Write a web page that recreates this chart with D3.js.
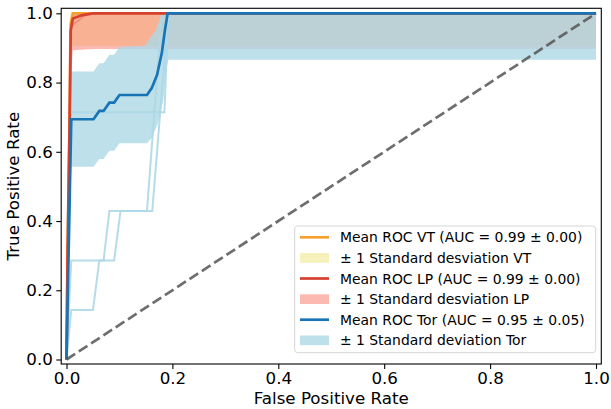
<!DOCTYPE html>
<html><head><meta charset="utf-8">
<script src="https://cdn.jsdelivr.net/npm/d3@7"></script>
<style>html,body{margin:0;padding:0;background:#fff;}svg{display:block;font-family:"DejaVu Sans",sans-serif;}</style>
</head><body><svg id="chart" width="611" height="409"></svg>
<script>
// ---- data ----
const xTicks = [0, 0.2, 0.4, 0.6, 0.8, 1.0];
const yTicks = [0, 0.2, 0.4, 0.6, 0.8, 1.0];

const vtMeanFpr = [0, 0.002, 0.005, 0.007, 0.008, 0.012, 1];
const vtMeanTpr = [0, 0.30, 0.60, 0.85, 0.97, 1, 1];
const vtBandFpr = [0, 0.007, 0.008, 0.012, 0.03, 1];
const vtBandLow = [0, 0.80, 0.90, 0.905, 0.906, 0.906];
const vtBandHigh = [0, 1, 1, 1, 1, 1];

const lpMeanFpr = [0, 0.002, 0.005, 0.007, 0.008, 0.012, 0.03, 0.05, 1];
const lpMeanTpr = [0, 0.30, 0.60, 0.80, 0.95, 0.985, 0.995, 1, 1];
const lpBandFpr = [0, 0.004, 0.007, 0.012, 0.05, 1];
const lpBandLow = [0, 0.30, 0.80, 0.893, 0.897, 0.897];
const lpBandHigh = [0, 0.60, 0.97, 1, 1, 1];
const lpFold1Fpr = [0, 0.006, 0.012, 0.03, 0.05, 1];
const lpFold1Tpr = [0, 0.95, 0.965, 0.99, 1, 1];
const lpFold2Fpr = [0, 0.008, 0.02, 0.04, 1];
const lpFold2Tpr = [0, 0.97, 0.975, 1, 1];

const torMeanFpr = [0, 0.009, 0.051, 0.062, 0.07, 0.081, 0.09, 0.1, 0.152, 0.161, 0.171, 0.18, 0.186, 0.191, 1];
const torMeanTpr = [0, 0.694, 0.694, 0.718, 0.718, 0.742, 0.742, 0.764, 0.764, 0.784, 0.822, 0.885, 0.952, 1, 1];
const torBandFpr = [0, 0.009, 0.051, 0.062, 0.07, 0.081, 0.09, 0.1, 0.149, 0.152, 0.161, 0.168, 0.173, 0.18, 0.183, 0.188, 0.192, 1];
const torBandLow = [0, 0.557, 0.557, 0.579, 0.579, 0.603, 0.603, 0.625, 0.625, 0.625, 0.639, 0.665, 0.683, 0.73, 0.751, 0.83, 0.866, 0.866];
const torBandHigh = [0, 0.832, 0.832, 0.856, 0.856, 0.88, 0.88, 0.903, 0.906, 0.915, 0.935, 0.95, 0.97, 0.997, 1, 1, 1, 1];

const torFold1Fpr = [0, 0.009, 0.05, 0.062, 0.09, 0.102, 0.162, 0.192, 1];
const torFold1Tpr = [0, 0.143, 0.143, 0.286, 0.286, 0.429, 0.429, 1, 1];
const torFold2Fpr = [0, 0.009, 0.07, 0.081, 0.152, 0.18, 1];
const torFold2Tpr = [0, 0.286, 0.286, 0.429, 0.429, 1, 1];
const torFold3Fpr = [0, 0.009, 0.185, 0.192, 1];
const torFold3Tpr = [0, 0.714, 0.714, 1, 1];

const legendLabels = [
  "Mean ROC VT (AUC = 0.99 \u00b1 0.00)",
  "\u00b1 1 Standard desviation VT",
  "Mean ROC LP (AUC = 0.99 \u00b1 0.00)",
  "\u00b1 1 Standard desviation LP",
  "Mean ROC Tor (AUC = 0.95 \u00b1 0.05)",
  "\u00b1 1 Standard deviation Tor"
];

// ---- styles ----
const C = {
  vt: "#f6a02d", vtFill: "#f0e68c",
  lp: "#d6402f", lpFill: "#fa8072",
  tor: "#1874b4", torFill: "#add8e6",
  fold: "#add8e6", lpFold: "#f08080"
};

const svg = d3.select("#chart");
const m = {left: 61.2, right: 601.3, top: 8.3, bottom: 364};
const x = d3.scaleLinear().domain([-0.01, 1.01]).range([m.left, m.right]);
const y = d3.scaleLinear().domain([-0.013, 1.0145]).range([m.bottom, m.top]);

const zip = (a, b) => a.map((v, i) => [v, b[i]]);
const line = d3.line().x(d => x(d[0])).y(d => y(d[1]));
const area = d3.area().x(d => x(d[0])).y0(d => y(d[1])).y1(d => y(d[2]));
const band = (f, lo, hi) => f.map((v, i) => [v, lo[i], hi[i]]);

const g = svg.append("g");
g.append("path").datum(band(vtBandFpr, vtBandLow, vtBandHigh)).attr("d", area)
  .attr("fill", C.vtFill).attr("fill-opacity", 0.6);
g.append("path").datum(band(lpBandFpr, lpBandLow, lpBandHigh)).attr("d", area)
  .attr("fill", C.lpFill).attr("fill-opacity", 0.55);
g.append("path").datum(band(torBandFpr, torBandLow, torBandHigh)).attr("d", area)
  .attr("fill", C.torFill).attr("fill-opacity", 0.8);

[[torFold1Fpr, torFold1Tpr], [torFold2Fpr, torFold2Tpr], [torFold3Fpr, torFold3Tpr]].forEach(([f, t]) => {
  g.append("path").datum(zip(f, t)).attr("d", line).attr("fill", "none")
    .attr("stroke", C.fold).attr("stroke-width", 2).attr("stroke-opacity", 0.9);
});
[[lpFold1Fpr, lpFold1Tpr], [lpFold2Fpr, lpFold2Tpr]].forEach(([f, t]) => {
  g.append("path").datum(zip(f, t)).attr("d", line).attr("fill", "none")
    .attr("stroke", C.lpFold).attr("stroke-width", 1.2).attr("stroke-opacity", 0.7);
});

g.append("path").datum(zip(vtMeanFpr, vtMeanTpr)).attr("d", line).attr("fill", "none")
  .attr("stroke", C.vt).attr("stroke-width", 2.7);
g.append("path").datum(zip(lpMeanFpr, lpMeanTpr)).attr("d", line).attr("fill", "none")
  .attr("stroke", C.lp).attr("stroke-width", 2.7);
g.append("path").datum(zip(torMeanFpr, torMeanTpr)).attr("d", line).attr("fill", "none")
  .attr("stroke", C.tor).attr("stroke-width", 2.7);

g.append("path").datum([[0, 0], [1, 1]]).attr("d", line).attr("fill", "none")
  .attr("stroke", "#555").attr("stroke-opacity", 0.85).attr("stroke-width", 2.7)
  .attr("stroke-dasharray", "10.3,4.4");

// axes
const fmt = d3.format(".1f");
const xAxis = svg.append("g").attr("transform", `translate(0,${m.bottom})`)
  .call(d3.axisBottom(x).tickValues(xTicks).tickFormat(fmt).tickSize(4.9).tickPadding(3));
const yAxis = svg.append("g").attr("transform", `translate(${m.left},0)`)
  .call(d3.axisLeft(y).tickValues(yTicks).tickFormat(fmt).tickSize(4.9).tickPadding(3.5));
[xAxis, yAxis].forEach(a => {
  a.select(".domain").remove();
  a.selectAll(".tick line").attr("stroke", "#000").attr("stroke-width", 1.1);
  a.selectAll(".tick text").attr("font-size", 16.7).attr("fill", "#000")
    .attr("font-family", "DejaVu Sans");
});
svg.append("rect").attr("x", m.left).attr("y", m.top)
  .attr("width", m.right - m.left).attr("height", m.bottom - m.top)
  .attr("fill", "none").attr("stroke", "#000").attr("stroke-width", 1.1);

svg.append("text").attr("x", (m.left + m.right) / 2).attr("y", 404)
  .attr("text-anchor", "middle").attr("font-size", 16.7).text("False Positive Rate");
svg.append("text").attr("transform", `translate(19,${(m.top + m.bottom) / 2}) rotate(-90)`)
  .attr("text-anchor", "middle").attr("font-size", 16.7).text("True Positive Rate");

// legend
const lg = svg.append("g");
lg.append("rect").attr("x", 294.7).attr("y", 226).attr("width", 301).attr("height", 126.7)
  .attr("rx", 3).attr("fill", "#fff").attr("fill-opacity", 0.8)
  .attr("stroke", "#d6d6d6").attr("stroke-width", 1);
const legendKinds = [
  {type: "line", color: C.vt},
  {type: "fill", color: C.vtFill, op: 0.6},
  {type: "line", color: C.lp},
  {type: "fill", color: C.lpFill, op: 0.55},
  {type: "line", color: C.tor},
  {type: "fill", color: C.torFill, op: 0.8}
];
legendLabels.forEach((lab, i) => {
  const cy = 237.3 + i * 20.6;
  const k = legendKinds[i];
  if (k.type === "line") {
    lg.append("line").attr("x1", 300).attr("x2", 329).attr("y1", cy).attr("y2", cy)
      .attr("stroke", k.color).attr("stroke-width", 2.7);
  } else {
    lg.append("rect").attr("x", 300).attr("y", cy - 4.8).attr("width", 29).attr("height", 9.7)
      .attr("fill", k.color).attr("fill-opacity", k.op);
  }
  lg.append("text").attr("x", 340).attr("y", cy).attr("dy", "0.36em")
    .attr("font-size", 13.9).text(lab);
});
</script></body></html>
